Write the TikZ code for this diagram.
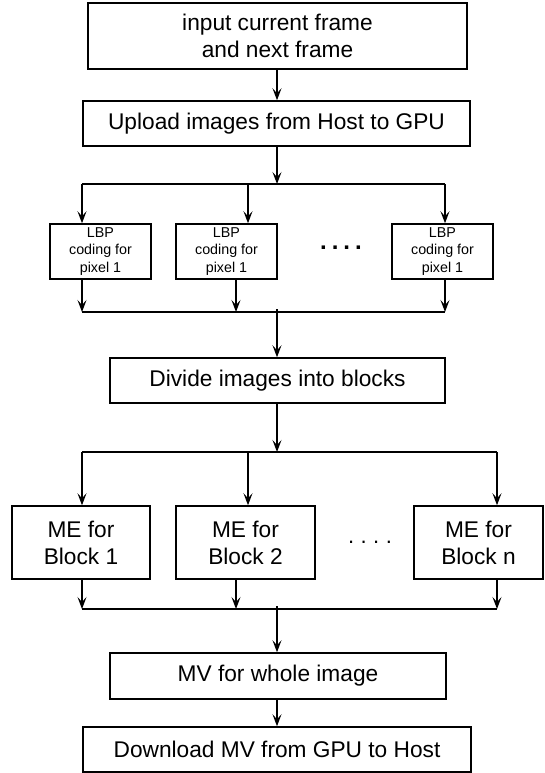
\documentclass[tikz,border=0pt]{standalone}
\usepackage{fontspec}
\setmainfont{Liberation Sans}
\usetikzlibrary{arrows.meta}
\begin{document}
\begin{tikzpicture}[x=1pt,y=-1pt,
  box/.style={draw, line width=1.5pt, rectangle, inner sep=0pt, align=center,
    font=\fontsize{22.7}{27}\selectfont},
  smallbox/.style={box, font=\fontsize{14.3}{17.5}\selectfont},
  arr/.style={-{Stealth[length=12pt,width=9pt,inset=5pt]}, line width=1.3pt},
  ln/.style={line width=1.3pt},
  dotsnode/.style={inner sep=0pt, font=\fontsize{22}{22}\selectfont}]
\useasboundingbox (0,0) rectangle (544,773);

% main boxes
\node[box, minimum width=379pt, minimum height=66pt] (top) at (277.5,36) {input current frame\\and next frame};
\node[box, minimum width=387pt, minimum height=45pt] (upload) at (276.5,123.5) {Upload images from Host to GPU};

% LBP row
\node[smallbox, minimum width=101pt, minimum height=55pt] (lbp1) at (100.5,251.5) {LBP\\coding for\\pixel 1};
\node[smallbox, minimum width=101pt, minimum height=55pt] (lbp2) at (226.5,251.5) {LBP\\coding for\\pixel 1};
\node[smallbox, minimum width=101pt, minimum height=55pt] (lbp3) at (442.5,251.5) {LBP\\coding for\\pixel 1};
\node[dotsnode, font=\fontsize{24}{24}\selectfont\bfseries] (dotsA) at (341,248) {.\hspace{5pt}.\hspace{5pt}.\hspace{5pt}.};

\node[box, minimum width=335pt, minimum height=45pt] (divide) at (277.5,380.5) {Divide images into blocks};

% ME row
\node[box, minimum width=138pt, minimum height=73pt] (me1) at (81,542.5) {ME for\\Block 1};
\node[box, minimum width=139pt, minimum height=73pt] (me2) at (245.5,542.5) {ME for\\Block 2};
\node[box, minimum width=129pt, minimum height=73pt] (men) at (478.5,542.5) {ME for\\Block n};
\node[dotsnode] (dotsB) at (370,542) {.\hspace{6.5pt}.\hspace{6.5pt}.\hspace{6.5pt}.};

\node[box, minimum width=336pt, minimum height=46pt] (mv) at (278,676) {MV for whole image};
\node[box, minimum width=388pt, minimum height=45pt] (down) at (277,749.5) {Download MV from GPU to Host};

% junction coordinates
\coordinate (s1) at (277,184);
\coordinate (s1a) at (82,184);
\coordinate (s1b) at (248,184);
\coordinate (s1c) at (445,184);
\coordinate (m1) at (277,312);
\coordinate (m1a) at (82,312);
\coordinate (m1b) at (236,312);
\coordinate (m1c) at (445,312);
\coordinate (s2) at (277,452);
\coordinate (s2a) at (82,452);
\coordinate (s2b) at (248,452);
\coordinate (s2c) at (497,452);
\coordinate (m2) at (277,609);
\coordinate (m2a) at (82,609);
\coordinate (m2b) at (236,609);
\coordinate (m2c) at (497,609);

% connectors
\draw[arr] (top.south -| s1) -- (upload.north -| s1);
\draw[arr] (upload.south -| s1) -- (s1);
\draw[ln] (s1a) -- (s1c);
\draw[arr] (s1a) -- (lbp1.north -| s1a);
\draw[arr] (s1b) -- (lbp2.north -| s1b);
\draw[arr] (s1c) -- (lbp3.north -| s1c);
\draw[arr] (lbp1.south -| m1a) -- (m1a);
\draw[arr] (lbp2.south -| m1b) -- (m1b);
\draw[arr] (lbp3.south -| m1c) -- (m1c);
\draw[ln] (m1a) -- (m1c);
\draw[arr] ([yshift=3pt]m1) -- (divide.north -| m1);
\draw[arr] (divide.south -| s2) -- (s2);
\draw[ln] (s2a) -- (s2c);
\draw[arr] (s2a) -- (me1.north -| s2a);
\draw[arr] (s2b) -- (me2.north -| s2b);
\draw[arr] (s2c) -- (men.north -| s2c);
\draw[arr] (me1.south -| m2a) -- (m2a);
\draw[arr] (me2.south -| m2b) -- (m2b);
\draw[arr] (men.south -| m2c) -- (m2c);
\draw[ln] (m2a) -- (m2c);
\draw[arr] ([yshift=3pt]m2) -- (mv.north -| m2);
\draw[arr] (mv.south -| m2) -- (down.north -| m2);
\end{tikzpicture}
\end{document}
